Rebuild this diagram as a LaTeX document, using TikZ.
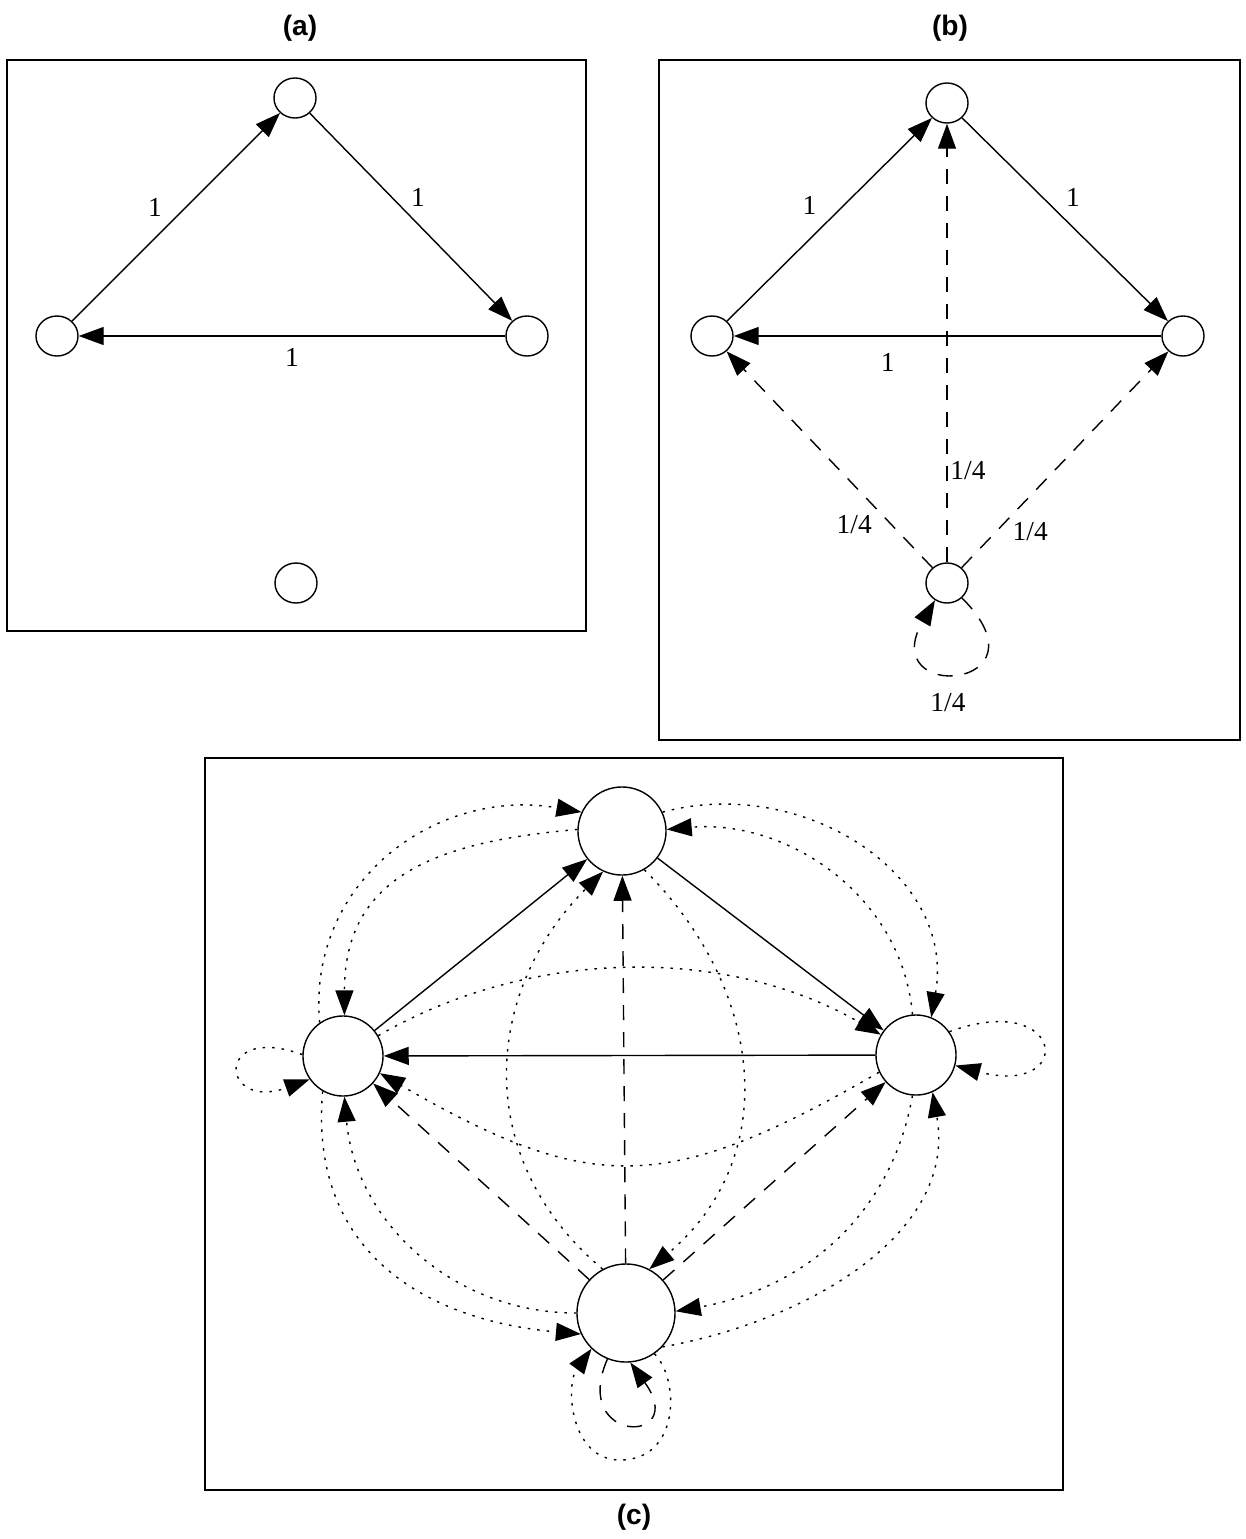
\documentclass[tikz,border=0pt]{standalone}
\usepackage{fontspec}
\setmainfont{Liberation Serif}
\setsansfont{Liberation Sans}
\usetikzlibrary{arrows.meta,shapes.geometric}

\begin{document}
\begin{tikzpicture}[x=0.01cm,y=0.01cm,
    vertex/.style={draw,ellipse,line width=0.4pt,minimum width=0.42cm,minimum height=0.4cm,inner sep=0pt},
    bigvertex/.style={draw,circle,line width=0.4pt,inner sep=0pt},
    link/.style={line width=0.4pt,-{Triangle[length=0.25cm,width=0.18cm]}},
    dlink/.style={link,dash pattern=on 0.15cm off 0.12cm},
    plink/.style={link,dash pattern=on 0.025cm off 0.07cm},
    panel/.style={line width=0.6pt},
    lbl/.style={font=\fontsize{7.8}{9}\selectfont,inner sep=1pt},
    ttl/.style={font=\sffamily\bfseries\fontsize{8}{9}\selectfont,inner sep=0pt}]
  \useasboundingbox (0,0) rectangle (1246,-1539);

  % (a)
  \node[ttl] (ta) at (300,-28) {(a)};
  \draw[panel] (7,-60) rectangle (586,-631);
  \node[vertex] (a1) at (295,-98) {};
  \node[vertex] (a2) at (57,-336) {};
  \node[vertex] (a3) at (527,-336) {};
  \node[vertex] (a4) at (296,-583) {};
  \draw[link] (a2) -- (a1) node[lbl,midway,xshift=-0.21cm,yshift=0.1cm] (la1) {1};
  \draw[link] (a1) -- (a3) node[lbl,midway,xshift=0.07cm,yshift=0.2cm] (la2) {1};
  \draw[link] (a3) -- (a2) node[lbl,midway,yshift=-0.21cm] (la3) {1};

  % (b)
  \node[ttl] (tb) at (950,-28) {(b)};
  \draw[panel] (659,-60) rectangle (1240,-740);
  \node[vertex] (b1) at (947,-103) {};
  \node[vertex] (b2) at (712,-336) {};
  \node[vertex] (b3) at (1183,-336) {};
  \node[vertex] (b4) at (947,-583) {};
  \draw[link] (b2) -- (b1) node[lbl,midway,xshift=-0.2cm,yshift=0.14cm] (lb1) {1};
  \draw[link] (b1) -- (b3) node[lbl,midway,xshift=0.08cm,yshift=0.22cm] (lb2) {1};
  \draw[link] (b3) -- (b2) node[lbl,pos=0.64,yshift=-0.26cm] (lb3) {1};
  \draw[dlink] (b4) -- (b1) node[lbl,pos=0.21,xshift=0.21cm] (lb4) {1/4};
  \draw[dlink] (b4) -- (b2) node[lbl,pos=0.2,xshift=-0.37cm] (lb5) {1/4};
  \draw[dlink] (b4) -- (b3) node[lbl,pos=0.165,xshift=0.345cm] (lb6) {1/4};
  \draw[dlink] (b4.-45) .. controls +(-45:130) and +(-120:120) .. (b4.-125)
    node[lbl,pos=0.5,xshift=-0.125cm,yshift=-0.3cm] (lb7) {1/4};

  % (c)
  \node[ttl] (tc) at (634,-1517) {(c)};
  \draw[panel] (205,-758) rectangle (1063,-1490);
  \node[bigvertex,minimum size=0.88cm] (c1) at (622,-831) {};
  \node[bigvertex,minimum size=0.8cm] (c2) at (343,-1056) {};
  \node[bigvertex,minimum size=0.8cm] (c3) at (916,-1055) {};
  \node[bigvertex,minimum size=0.98cm] (c4) at (626,-1313) {};
  \draw[link] (c2) -- (c1);
  \draw[link] (c1) -- (c3);
  \draw[link] (c3) -- (c2);
  \draw[dlink] (c4) -- (c2);
  \draw[dlink] (c4) -- (c1);
  \draw[dlink] (c4) -- (c3);
  \draw[dlink] (c4.-112) .. controls (570,-1445) and (690,-1445) .. (c4.-85);
  \draw[plink] (c2.125) to[out=95,in=170,looseness=1.1] (c1.155);
  \draw[plink] (c1.178) to[out=185,in=90,looseness=1.2] (c2.88);
  \draw[plink] (c1.25) to[out=15,in=80,looseness=1.1] (c3.68);
  \draw[plink] (c3.95) to[out=95,in=5] (c1.2);
  \draw[plink] (c2.30) to[out=30,in=150,looseness=0.9] (c3.150);
  \draw[plink] (c3.205) to[out=210,in=-30,looseness=1.25] (c2.-25);
  \draw[plink] (c4.118) to[out=140,in=225,looseness=1.1] (c1.245);
  \draw[plink] (c1.-60) to[out=-45,in=40,looseness=1.1] (c4.62);
  \draw[plink] (c2.240) to[out=265,in=175,looseness=1.15] (c4.205);
  \draw[plink] (c4.180) to[out=180,in=275] (c2.272);
  \draw[plink] (c3.265) to[out=260,in=10] (c4.2);
  \draw[plink] (c4.-43) to[out=10,in=280] (c3.294);
  \draw[plink] (c3.35) .. controls +(20:125) and +(-15:125) .. (c3.-15);
  \draw[plink] (c2.178) .. controls +(160:95) and +(200:95) .. (c2.215);
  \draw[plink] (c4.-55) .. controls (680,-1380) and (680,-1460) .. (620,-1460)
    .. controls (570,-1460) and (565,-1385) .. (c4.-134);
\end{tikzpicture}
\end{document}
